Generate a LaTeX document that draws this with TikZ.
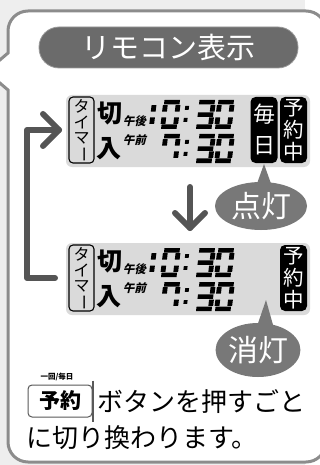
\documentclass[tikz,border=0pt]{standalone}
\usepackage{fontspec}
\setmainfont{Noto Sans CJK JP}
\usetikzlibrary{shapes.geometric}
\definecolor{bgray}{HTML}{EEEEEE}
\definecolor{bord}{HTML}{8C8C8C}
\definecolor{pillc}{HTML}{6B6B6B}
\definecolor{lcdc}{HTML}{DADADA}
\definecolor{arrc}{HTML}{555555}
\definecolor{ellc}{HTML}{787878}
\newcommand\fs[1]{\fontsize{#1}{#1}\selectfont}
\newcommand\sgr[4]{\fill (#1,#2) -- (#3,#2) -- (#3,#4) -- (#1,#4) -- cycle;}
\newcommand\sga{\sgr{1}{0}{16.5}{4.5}}
\newcommand\sgg{\sgr{1}{12.3}{16.5}{16.8}}
\newcommand\sgd{\sgr{1}{24.5}{16.5}{29}}
\newcommand\sgf{\sgr{0}{5.2}{4.8}{11.6}}
\newcommand\sgb{\sgr{12.7}{5.2}{17.5}{11.6}}
\newcommand\sge{\sgr{0}{17.5}{4.8}{23.8}}
\newcommand\sgc{\sgr{12.7}{17.5}{17.5}{23.8}}
\newcommand\sdigit[3]{\begin{scope}[shift={(#1,#2)},xslant=0.12]\foreach \s in {#3}{\csname sg\s\endcsname}\end{scope}}
\newcommand\scolon[2]{\begin{scope}[shift={(#1,#2)},xslant=0.12]\sgr{0}{6}{3.8}{9.8}\sgr{0}{18}{3.8}{21.8}\end{scope}}
\tikzset{
  panelbox/.style={fill=lcdc, rounded corners=6, minimum width=244, minimum height=72, inner sep=0},
  timerbox/.style={draw=black, line width=1.1, rounded corners=4, minimum width=25, minimum height=66, inner sep=0},
  tmch/.style={font=\fs{16}, inner sep=0},
  bigch/.style={font=\fs{25}\bfseries, inner sep=0},
  smallch/.style={font=\fs{11.5}\bfseries, inner sep=0, xslant=0.25},
  blackbox/.style={fill=black, rounded corners=5, inner sep=0},
  wch/.style={font=\fs{20.5}, text=white, inner sep=0},
  arr/.style={draw=arrc, line width=6, line cap=round, line join=round},
  bubl/.style={ellipse, fill=ellc, inner sep=0, text=white, font=\fs{30}},
  bodytext/.style={font=\fs{26}, inner sep=0, anchor=west}
}
\newcommand\lcdpanel[2]{%
\begin{scope}[shift={(0,#2)}]
  \node[panelbox] (#1panel) at (188,131) {};
  \node[timerbox] (#1timer) at (81.5,130) {};
  \node[tmch] (#1ta) at (81.5,106.5) {タ};
  \node[tmch] (#1i) at (81.5,122.6) {イ};
  \node[tmch] (#1ma) at (81.5,138.7) {マ};
  \node[tmch, rotate=-90] (#1bar) at (81.5,154.8) {ー};
  \node[bigch] (#1kiri) at (110,113) {切};
  \node[bigch] (#1iri) at (109,149) {入};
  \node[smallch] (#1pm) at (135.5,121.5) {午後};
  \node[smallch] (#1am) at (135.5,140.5) {午前};
  \sdigit{139.5}{100}{b,c}
  \sdigit{163.5}{100}{a,b,c,d,e,f}
  \scolon{186}{100}
  \sdigit{198.5}{100}{a,b,c,d,g}
  \sdigit{217.5}{100}{a,b,c,d,e,f}
  \sdigit{163.5}{134}{a,b,c,f}
  \scolon{186}{134}
  \sdigit{198.5}{134}{a,b,c,d,g}
  \sdigit{217.5}{134}{a,b,c,d,e,f}
  \node[blackbox, minimum width=27, minimum height=66] (#1yy) at (293.5,130) {};
  \node[wch] (#1yo) at (293.5,108) {予};
  \node[wch] (#1ya) at (293.5,130) {約};
  \node[wch] (#1ch) at (293.5,152) {中};
\end{scope}}
\begin{document}
\begin{tikzpicture}[x=1pt,y=-1pt]
\useasboundingbox (0,0) rectangle (320,465);
\fill[white] (0,0) rectangle (320,465);
\fill[bgray] (0,0) rectangle (305,465);
% speech bubble
\draw[bord, fill=white, line width=3] (8,53) [rounded corners=20] -- (8,11) -- (326,11) -- (326,462) -- (8,462) [sharp corners] -- (8,90) -- (-6,78) -- (-6,65) -- cycle;
% title
\node[fill=pillc, draw=gray!80, line width=0.8, rounded corners=20, minimum width=259, minimum height=41, inner sep=0, text=white, font=\fs{29}] (title) at (168.5,47.5) {リモコン表示};
% panels
\lcdpanel{a}{0}
\node[blackbox, minimum width=27, minimum height=66] (daily) at (264,130) {};
\node[wch, font=\fs{22}] (mai) at (264,114) {毎};
\node[wch, font=\fs{22}] (nichi) at (264,146) {日};
\lcdpanel{b}{148}
% arrows
\coordinate (l0) at (55,278);
\coordinate (l1) at (27,278);
\coordinate (l2) at (27,130);
\coordinate (l3) at (59,130);
\coordinate (lh1) at (43,114);
\coordinate (lh2) at (43,146);
\draw[arr] (l0) -- (l1) -- (l2) -- (l3);
\draw[arr] (lh1) -- (l3) -- (lh2);
\coordinate (d0) at (190,187);
\coordinate (d1) at (190,228);
\coordinate (dh1) at (175,213);
\coordinate (dh2) at (205,213);
\draw[arr] (d0) -- (d1);
\draw[arr] (dh1) -- (d1) -- (dh2);
% lit / unlit bubbles
\coordinate (ontip) at (264,164);
\coordinate (onb1) at (254,192);
\coordinate (onb2) at (274,192);
\fill[ellc] (ontip) -- (onb1) -- (onb2) -- cycle;
\node[bubl, minimum width=92, minimum height=48] (on) at (261,206) {点灯};
\coordinate (offtip) at (266,300);
\coordinate (offb1) at (255,332);
\coordinate (offb2) at (275,332);
\fill[ellc] (offtip) -- (offb1) -- (offb2) -- cycle;
\node[bubl, minimum width=84, minimum height=54] (off) at (258,350) {消灯};
% bottom text
\node[draw=gray!70!black, line width=1, rounded corners=4, minimum width=64, minimum height=32, inner sep=0, font=\fs{21}\bfseries] (key) at (60,401) {予約};
\draw[gray!70!black, line width=1.6] ([xshift=0.6,yshift=4]key.north east) -- ([xshift=0.6,yshift=-4]key.south east);
\node[font=\fs{7.5}\bfseries, inner sep=0] (keylab) at (57,377) {一回/毎日};
\node[bodytext] (line1) at (97,402) {ボタンを押すごと};
\node[bodytext] (line2) at (26,438) {に切り換わります。};
\end{tikzpicture}
\end{document}
